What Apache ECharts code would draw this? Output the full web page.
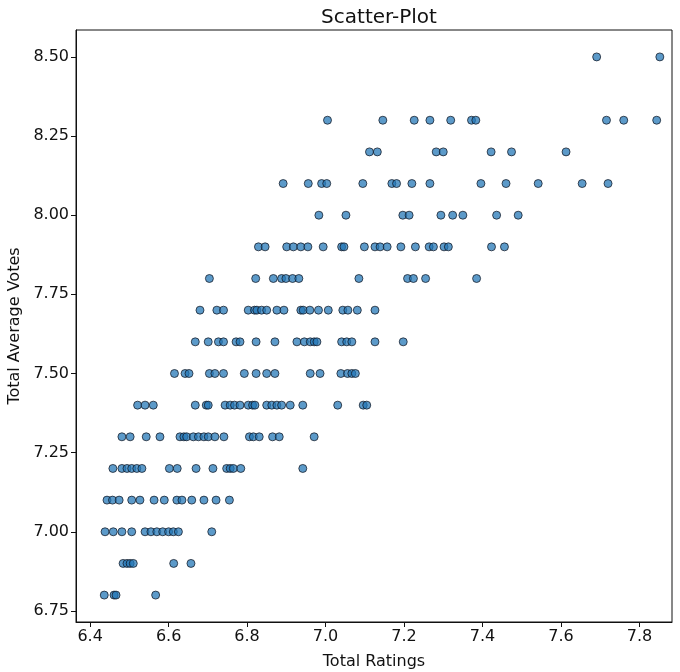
<!DOCTYPE html>
<html>
<head>
<meta charset="utf-8">
<script src="https://cdn.jsdelivr.net/npm/echarts@6/dist/echarts.min.js"></script>
<style>
  html, body { margin: 0; padding: 0; background: #fff; }
  #chart { width: 680px; height: 672px; }
</style>
</head>
<body>
<div id="chart"></div>
<script>
// Total Ratings observed at each Total Average Votes level
const ratingsAt6_8 = [6.436, 6.461, 6.466, 6.567];
const ratingsAt6_9 = [6.484, 6.494, 6.502, 6.51, 6.613, 6.657];
const ratingsAt7_0 = [6.438, 6.459, 6.481, 6.506, 6.54, 6.555, 6.57, 6.585, 6.6, 6.612, 6.625, 6.71];
const ratingsAt7_1 = [6.443, 6.457, 6.474, 6.506, 6.527, 6.563, 6.589, 6.621, 6.634, 6.659, 6.69, 6.721, 6.755];
const ratingsAt7_2 = [6.458, 6.481, 6.494, 6.506, 6.519, 6.532, 6.602, 6.622, 6.67, 6.713, 6.748, 6.757, 6.765, 6.784, 6.942];
const ratingsAt7_3 = [6.481, 6.502, 6.543, 6.578, 6.629, 6.639, 6.646, 6.663, 6.676, 6.69, 6.701, 6.718, 6.741, 6.806, 6.816, 6.831, 6.865, 6.882, 6.971];
const ratingsAt7_4 = [6.521, 6.54, 6.561, 6.668, 6.696, 6.701, 6.744, 6.757, 6.768, 6.782, 6.803, 6.814, 6.82, 6.85, 6.863, 6.876, 6.888, 6.91, 6.942, 7.031, 7.096, 7.105];
const ratingsAt7_5 = [6.615, 6.642, 6.652, 6.704, 6.718, 6.74, 6.793, 6.823, 6.85, 6.871, 6.961, 6.986, 7.039, 7.056, 7.067, 7.076];
const ratingsAt7_6 = [6.668, 6.701, 6.727, 6.74, 6.772, 6.782, 6.823, 6.871, 6.927, 6.946, 6.961, 6.971, 6.978, 7.041, 7.054, 7.067, 7.126, 7.198];
const ratingsAt7_7 = [6.68, 6.723, 6.74, 6.803, 6.819, 6.825, 6.837, 6.85, 6.876, 6.894, 6.937, 6.943, 6.96, 6.982, 7.007, 7.044, 7.057, 7.081, 7.126];
const ratingsAt7_8 = [6.704, 6.822, 6.867, 6.888, 6.899, 6.916, 6.932, 7.085, 7.209, 7.224, 7.255, 7.385];
const ratingsAt7_9 = [6.829, 6.846, 6.901, 6.918, 6.937, 6.955, 6.994, 7.041, 7.047, 7.099, 7.126, 7.139, 7.157, 7.192, 7.229, 7.264, 7.275, 7.302, 7.313, 7.423, 7.456];
const ratingsAt8_0 = [6.983, 7.052, 7.197, 7.213, 7.294, 7.324, 7.35, 7.436, 7.491];
const ratingsAt8_1 = [6.892, 6.956, 6.99, 7.003, 7.095, 7.169, 7.181, 7.22, 7.266, 7.396, 7.46, 7.542, 7.654, 7.72];
const ratingsAt8_2 = [7.112, 7.132, 7.282, 7.3, 7.422, 7.474, 7.613];
const ratingsAt8_3 = [7.005, 7.146, 7.226, 7.266, 7.319, 7.372, 7.383, 7.716, 7.76, 7.844];
const ratingsAt8_5 = [7.691, 7.852];

const voteLevels = [6.8, 6.9, 7.0, 7.1, 7.2, 7.3, 7.4, 7.5, 7.6, 7.7, 7.8, 7.9, 8.0, 8.1, 8.2, 8.3, 8.5];
const ratingsByLevel = [ratingsAt6_8, ratingsAt6_9, ratingsAt7_0, ratingsAt7_1, ratingsAt7_2, ratingsAt7_3,
  ratingsAt7_4, ratingsAt7_5, ratingsAt7_6, ratingsAt7_7, ratingsAt7_8, ratingsAt7_9, ratingsAt8_0,
  ratingsAt8_1, ratingsAt8_2, ratingsAt8_3, ratingsAt8_5];

const xTicks = [6.4, 6.6, 6.8, 7.0, 7.2, 7.4, 7.6, 7.8];
const yTicks = [6.75, 7.0, 7.25, 7.5, 7.75, 8.0, 8.25, 8.5];

const points = [];
voteLevels.forEach((v, i) => ratingsByLevel[i].forEach(r => points.push([r, v])));

const font = 'DejaVu Sans';
const chart = echarts.init(document.getElementById('chart'), null, { renderer: 'canvas' });
chart.setOption({
  animation: false,
  backgroundColor: '#ffffff',
  title: {
    text: 'Scatter-Plot',
    left: 374, top: 3, textAlign: 'center',
    textStyle: { fontFamily: font, fontSize: 20, fontWeight: 'normal', color: '#111' }
  },
  grid: {
    left: 76, right: 8, top: 30, bottom: 50,
    outerBoundsMode: 'none', containLabel: false,
    show: true, borderColor: '#111', borderWidth: 1, backgroundColor: 'transparent'
  },
  xAxis: {
    type: 'value', min: 6.364, max: 7.883,
    name: 'Total Ratings', nameLocation: 'middle', nameGap: 32,
    nameTextStyle: { fontFamily: font, fontSize: 16, color: '#111' },
    axisLine: { show: true, onZero: false, lineStyle: { color: '#111', width: 1 } },
    axisTick: { show: true, length: 5, customValues: xTicks, lineStyle: { color: '#111' } },
    axisLabel: { customValues: xTicks, fontFamily: font, fontSize: 16, color: '#111', margin: 7,
      formatter: v => v.toFixed(1) },
    splitLine: { show: false }
  },
  yAxis: {
    type: 'value', min: 6.715, max: 8.585,
    name: 'Total Average Votes', nameLocation: 'middle', nameGap: 52, nameRotate: 90,
    nameTextStyle: { fontFamily: font, fontSize: 16, color: '#111' },
    axisLine: { show: true, onZero: false, lineStyle: { color: '#111', width: 1 } },
    axisTick: { show: true, length: 5, customValues: yTicks, lineStyle: { color: '#111' } },
    axisLabel: { customValues: yTicks, fontFamily: font, fontSize: 16, color: '#111', margin: 7,
      formatter: v => v.toFixed(2) },
    splitLine: { show: false }
  },
  series: [{
    type: 'scatter',
    data: points,
    symbol: 'circle',
    symbolSize: 8,
    itemStyle: { color: 'rgba(34,118,182,0.92)', borderColor: 'rgba(15,20,30,0.9)', borderWidth: 1 }
  }]
});
</script>
</body>
</html>
